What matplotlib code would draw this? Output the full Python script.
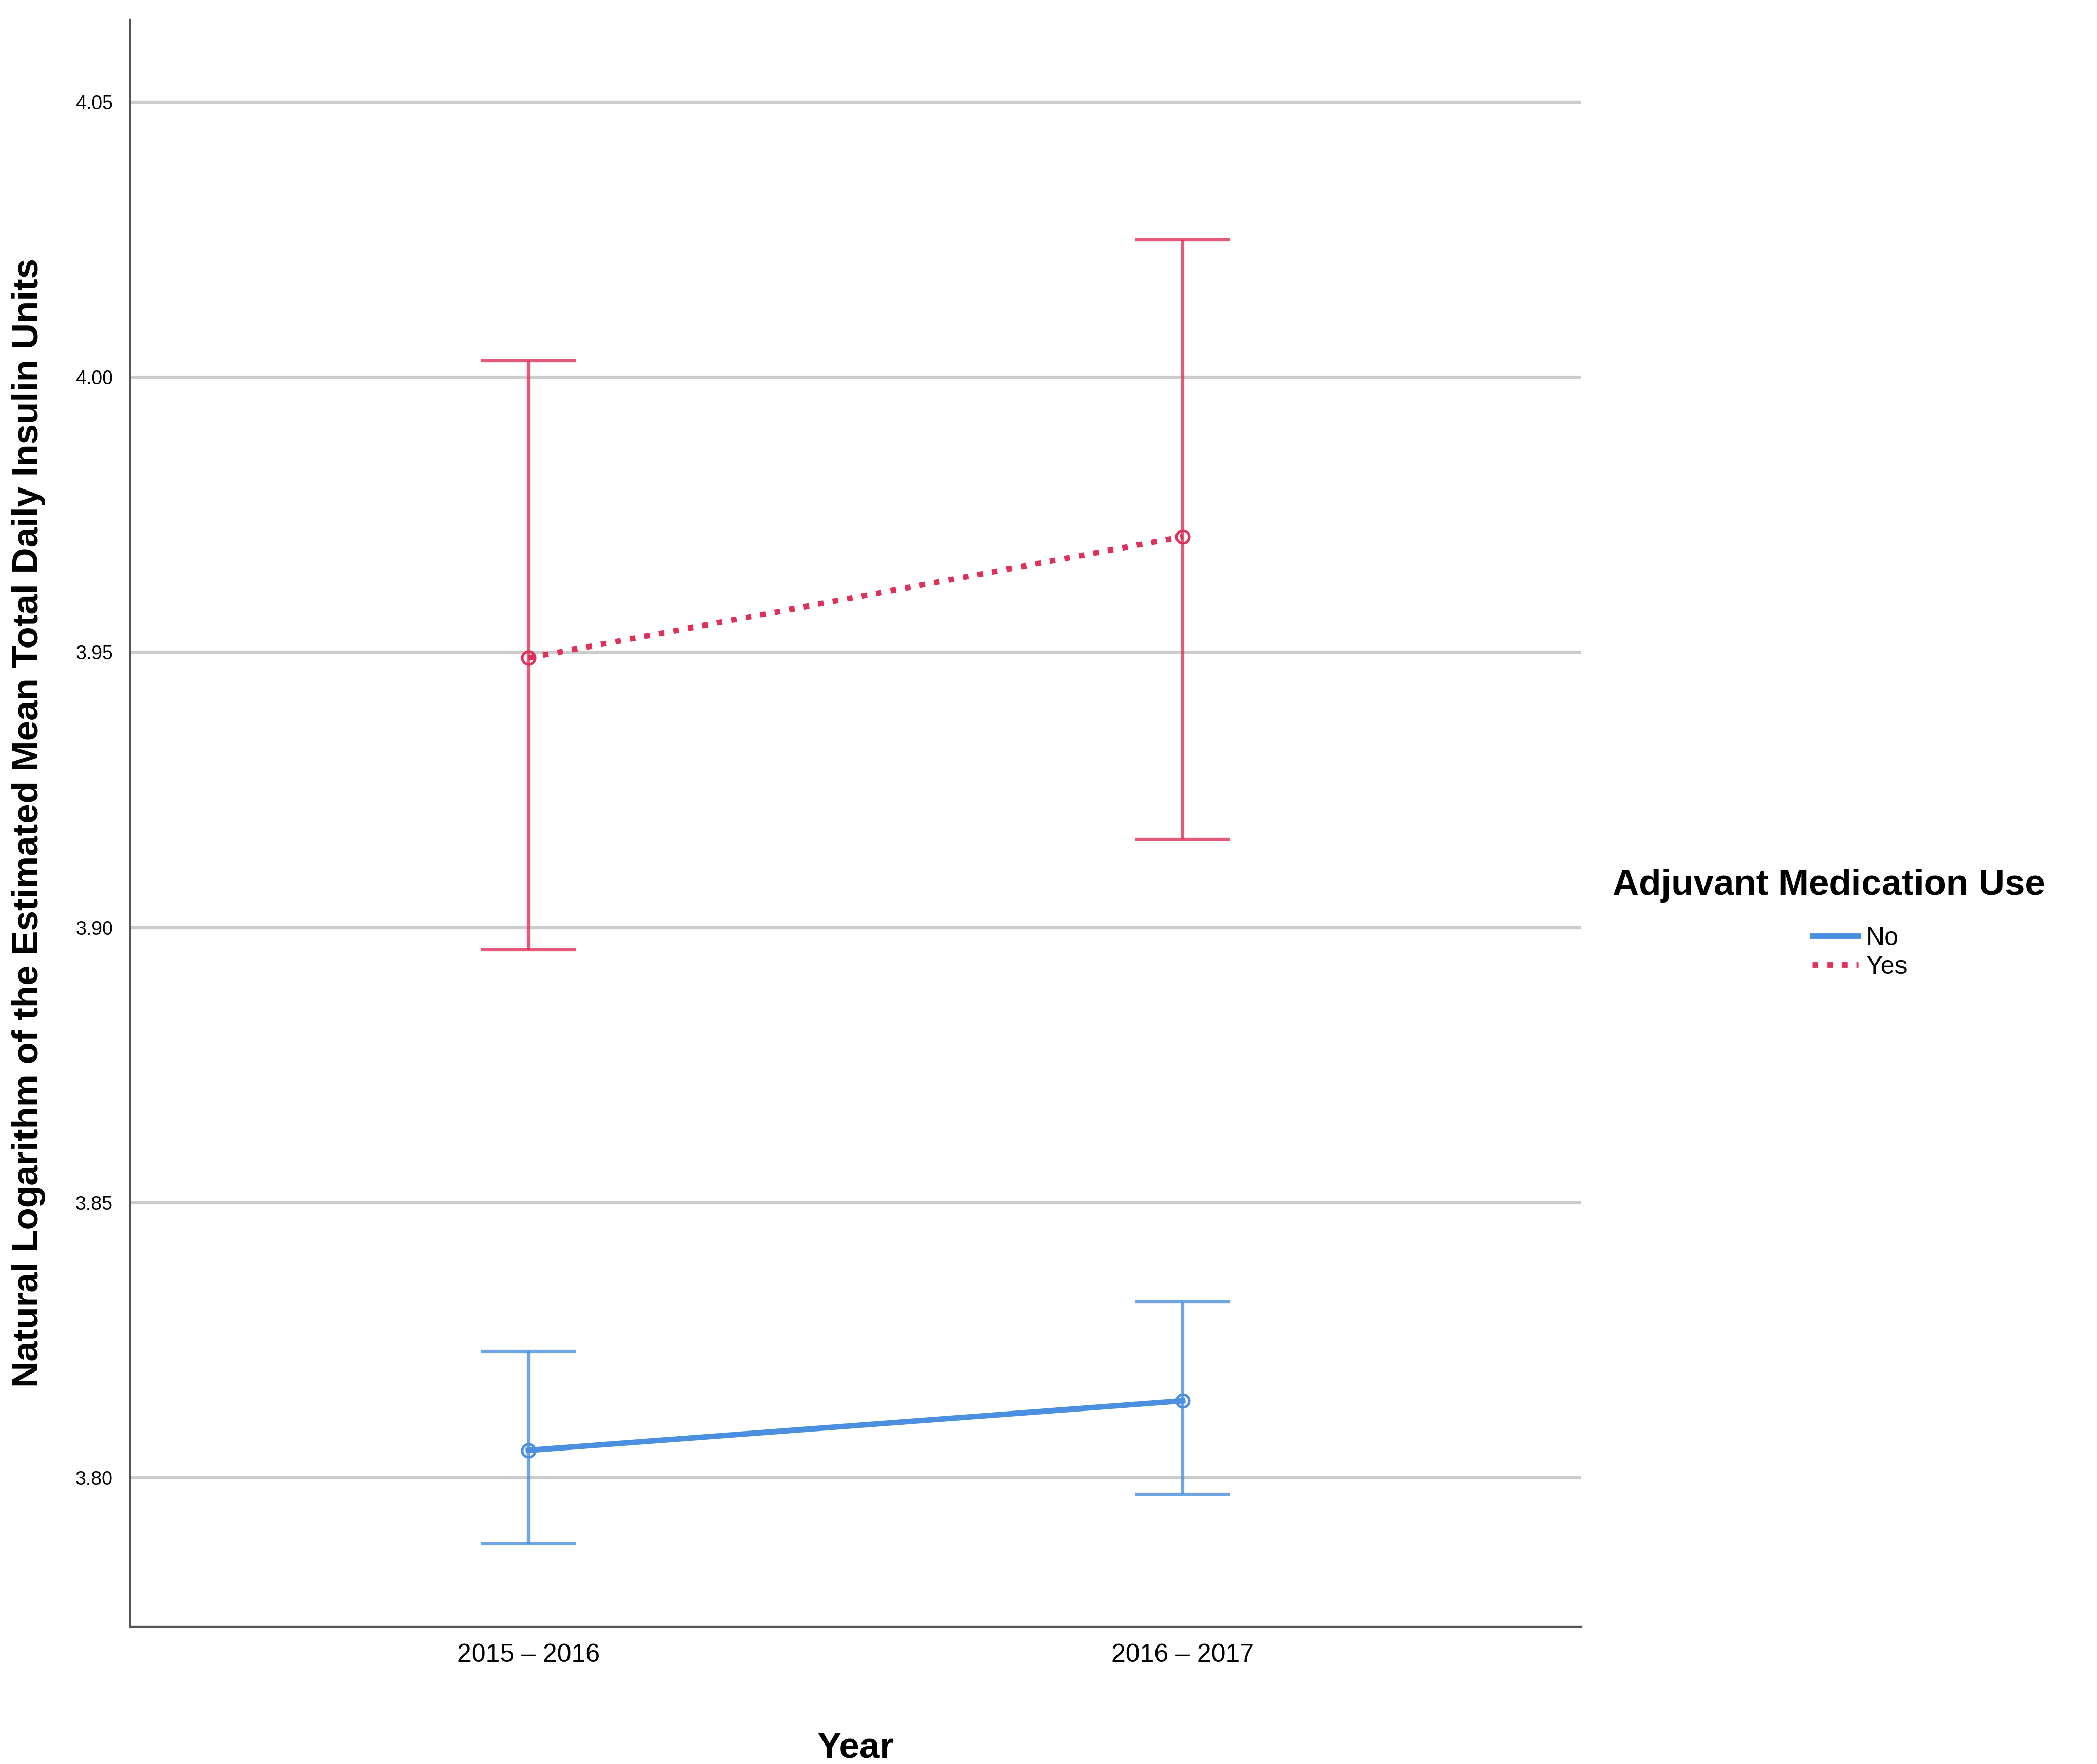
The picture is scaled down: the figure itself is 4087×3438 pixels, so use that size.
import matplotlib
matplotlib.use("Agg")
import matplotlib.pyplot as plt
from matplotlib.lines import Line2D

plt.rcParams['font.family'] = ['Liberation Sans', 'DejaVu Sans']

years = ["2015 – 2016", "2016 – 2017"]
no_mean = [3.805, 3.814]
no_low = [3.788, 3.797]
no_high = [3.823, 3.832]
yes_mean = [3.949, 3.971]
yes_low = [3.896, 3.916]
yes_high = [4.003, 4.025]
yticks = [3.80, 3.85, 3.90, 3.95, 4.00, 4.05]

blue = "#4a8fe0"
red = "#e0305a"

fig = plt.figure(figsize=(4087/300, 3438/300), dpi=300)
ax = fig.add_axes([0.062, 0.078, 0.692, 0.911])
x = list(range(len(years)))

for mean, lo, hi, col, ls in [(no_mean, no_low, no_high, blue, "-"),
                              (yes_mean, yes_low, yes_high, red, ":")]:
    yerr = [[m - l for m, l in zip(mean, lo)], [h - m for m, h in zip(mean, hi)]]
    ax.errorbar(x, mean, yerr=yerr, fmt="none", ecolor=col, elinewidth=1.5,
                capsize=22, capthick=1.5, alpha=0.8, zorder=3)
    ax.plot(x, mean, color=col, linestyle=ls, linewidth=2.6, marker="o",
            markersize=6, markerfacecolor="none", markeredgewidth=1.2, zorder=4)

ax.set_xlim(-0.609, 1.609)
ax.set_ylim(3.773, 4.065)
ax.set_yticks(yticks)
ax.set_yticklabels([f"{v:.2f}" for v in yticks], fontsize=9)
ax.set_xticks(x)
ax.set_xticklabels(years, fontsize=12)
ax.tick_params(length=0, pad=8)
ax.yaxis.grid(True, color="#cccccc", linewidth=1.5)
ax.set_axisbelow(True)
for s in ["top", "right"]:
    ax.spines[s].set_visible(False)
for s in ["left", "bottom"]:
    ax.spines[s].set_color("#555555")
ax.set_ylabel("Natural Logarithm of the Estimated Mean Total Daily Insulin Units",
              fontsize=17, fontweight="bold", labelpad=14)
ax.set_xlabel("Year", fontsize=17, fontweight="bold", labelpad=30)

handles = [Line2D([], [], color=blue, linewidth=2.6, linestyle="-"),
           Line2D([], [], color=red, linewidth=2.6, linestyle=":")]
fig.text(0.769, 0.498, "Adjuvant Medication Use", fontsize=17, fontweight="bold",
         ha="left", va="center")
fig.legend(handles, ["No", "Yes"], loc="upper left", bbox_to_anchor=(0.858, 0.482),
           frameon=False, fontsize=12, handlelength=1.8, labelspacing=0.2,
           borderpad=0, handletextpad=0.3)

fig.savefig("out.png", dpi=300)
